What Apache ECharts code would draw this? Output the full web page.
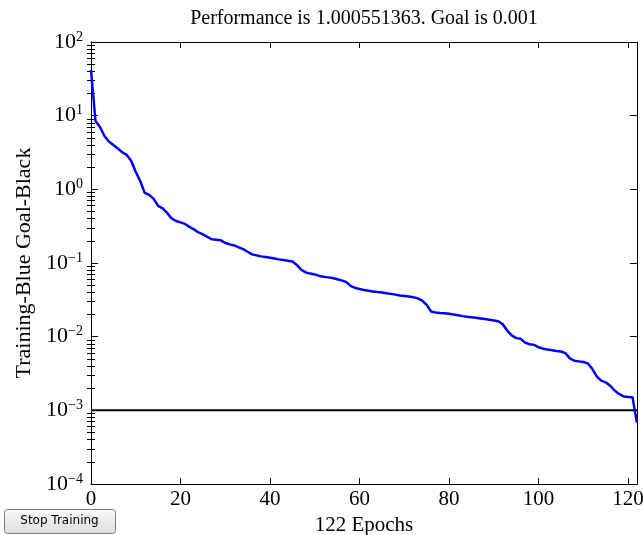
<!DOCTYPE html>
<html><head><meta charset="utf-8">
<script src="https://cdn.jsdelivr.net/npm/echarts@6/dist/echarts.min.js"></script>
<style>html,body{margin:0;padding:0;background:#fff}#c{width:643px;height:535px}</style>
</head><body><div id="c"></div>
<script>
// ---- data ----
const titleText = 'Performance is 1.000551363. Goal is 0.001';
const xName = '122 Epochs';
const yName = 'Training-Blue Goal-Black';
const epochMax = 122;
const xTicks = [0, 20, 40, 60, 80, 100, 120];
const yTicks = [1e-4, 1e-3, 1e-2, 1e-1, 1, 10, 100];
const goal = 0.001;
const goalEpochs = [0, 122];
// training performance, one value per epoch (epoch = index)
const performance = [
  41.7, 8.47, 7.03, 5.30, 4.47, 4.00, 3.59, 3.17, 2.93, 2.43,
  1.72, 1.30, 0.894, 0.84, 0.741, 0.595, 0.551, 0.479, 0.403, 0.372,
  0.356, 0.339, 0.309, 0.286, 0.260, 0.244, 0.226, 0.210, 0.207, 0.203,
  0.187, 0.179, 0.173, 0.163, 0.154, 0.142, 0.131, 0.127, 0.123, 0.121,
  0.118, 0.115, 0.112, 0.110, 0.107, 0.105, 0.0942, 0.0805, 0.0745, 0.0718,
  0.070, 0.0668, 0.0652, 0.0638, 0.0624, 0.0603, 0.0581, 0.0555, 0.0489, 0.0459,
  0.0443, 0.0431, 0.0421, 0.041, 0.0403, 0.0398, 0.0389, 0.0381, 0.0372, 0.0362,
  0.0356, 0.035, 0.0344, 0.0331, 0.0308, 0.027, 0.022, 0.0213, 0.021, 0.0208,
  0.0205, 0.020, 0.0195, 0.019, 0.0187, 0.0183, 0.018, 0.0177, 0.0174, 0.017,
  0.0166, 0.0162, 0.0147, 0.0121, 0.0104, 0.00955, 0.00934, 0.0083, 0.0079, 0.00774,
  0.00718, 0.00687, 0.0067, 0.00656, 0.00641, 0.00628, 0.00597, 0.00508, 0.00471, 0.00462,
  0.00452, 0.00434, 0.00366, 0.00289, 0.00253, 0.0024, 0.00216, 0.00186, 0.00167, 0.00154,
  0.00152, 0.0015, 0.000676
];

// ---- chart ----
const serif = '"Liberation Serif", "Times New Roman", serif';
const minorTicks = [];
for (let k = -4; k < 2; k++) for (let m = 2; m <= 9; m++) minorTicks.push(m * Math.pow(10, k));

function expLabel(v) {
  const e = Math.round(Math.log10(v));
  return '{b|10}{s|' + String(e).replace('-', '\u2212') + '}';
}

const yBase = {
  type: 'log', logBase: 10, min: 1e-4, max: 1e2, gridIndex: 0,
  splitLine: { show: false }, minorSplitLine: { show: false }
};
const xBase = {
  type: 'value', min: 0, max: epochMax, gridIndex: 0,
  splitLine: { show: false }
};
const lineBlack = { show: true, onZero: false, lineStyle: { color: '#000', width: 1 } };

const chart = echarts.init(document.getElementById('c'), null, { renderer: 'canvas' });
chart.setOption({
  animation: false,
  backgroundColor: '#fff',
  title: {
    text: titleText, left: 364, top: 9, textAlign: 'center', padding: 0,
    textStyle: { fontFamily: serif, fontSize: 20, fontWeight: 'normal', color: '#000' }
  },
  grid: { left: 91, right: 6, top: 42, bottom: 51, containLabel: false, outerBoundsMode: 'none' },
  xAxis: [
    Object.assign({}, xBase, {
      position: 'bottom',
      axisLine: lineBlack,
      axisTick: { inside: true, length: 6, customValues: xTicks, lineStyle: { color: '#000' } },
      axisLabel: { customValues: xTicks, margin: 5, fontFamily: serif, fontSize: 21, color: '#000' },
      name: xName, nameLocation: 'middle', nameGap: 28,
      nameTextStyle: { fontFamily: serif, fontSize: 21, color: '#000' }
    }),
    Object.assign({}, xBase, {
      position: 'top',
      axisLine: lineBlack,
      axisTick: { inside: true, length: 6, customValues: xTicks, lineStyle: { color: '#000' } },
      axisLabel: { show: false }
    })
  ],
  yAxis: [
    Object.assign({}, yBase, {
      position: 'left',
      axisLine: lineBlack,
      axisTick: { inside: true, length: 7, customValues: yTicks, lineStyle: { color: '#000' } },
      axisLabel: {
        customValues: yTicks, margin: 8, formatter: expLabel,
        rich: {
          b: { fontFamily: serif, fontSize: 22, color: '#000', lineHeight: 24 },
          s: { fontFamily: serif, fontSize: 14, color: '#000', lineHeight: 14, verticalAlign: 'top' }
        }
      },
      name: yName, nameLocation: 'middle', nameGap: 56,
      nameTextStyle: { fontFamily: serif, fontSize: 22, color: '#000' }
    }),
    Object.assign({}, yBase, {
      position: 'left',
      axisLine: { show: false },
      axisTick: { inside: true, length: 4, customValues: minorTicks, lineStyle: { color: '#000' } },
      axisLabel: { show: false }
    }),
    Object.assign({}, yBase, {
      position: 'right',
      axisLine: lineBlack,
      axisTick: { inside: true, length: 7, customValues: yTicks, lineStyle: { color: '#000' } },
      axisLabel: { show: false }
    }),
    Object.assign({}, yBase, {
      position: 'right',
      axisLine: { show: false },
      axisTick: { inside: true, length: 4, customValues: minorTicks, lineStyle: { color: '#000' } },
      axisLabel: { show: false }
    })
  ],
  series: [
    {
      name: 'Goal', type: 'line', xAxisIndex: 0, yAxisIndex: 0, z: 2,
      data: goalEpochs.map(e => [e, goal]),
      showSymbol: false, symbol: 'none',
      lineStyle: { color: '#000', width: 2 }
    },
    {
      name: 'Training', type: 'line', xAxisIndex: 0, yAxisIndex: 0, z: 3,
      data: performance.map((v, i) => [i, v]),
      showSymbol: false, symbol: 'none',
      lineStyle: { color: '#0000ff', width: 2.5 }
    }
  ],
  graphic: [
    {
      type: 'rect', left: 4, top: 509, z: 10,
      shape: { width: 111, height: 24, r: 3 },
      style: {
        fill: new echarts.graphic.LinearGradient(0, 0, 0, 1, [
          { offset: 0, color: '#fafafa' }, { offset: 1, color: '#dcdcdc' }
        ]),
        stroke: '#6f7f9f', lineWidth: 1
      }
    },
    {
      type: 'text', x: 59.5, y: 521, z: 11,
      style: {
        text: 'Stop Training', textAlign: 'center', textVerticalAlign: 'middle',
        align: 'center', verticalAlign: 'middle',
        fontFamily: '"DejaVu Sans", sans-serif', fontSize: 12, fill: '#000'
      }
    }
  ]
});
</script>
</body></html>
